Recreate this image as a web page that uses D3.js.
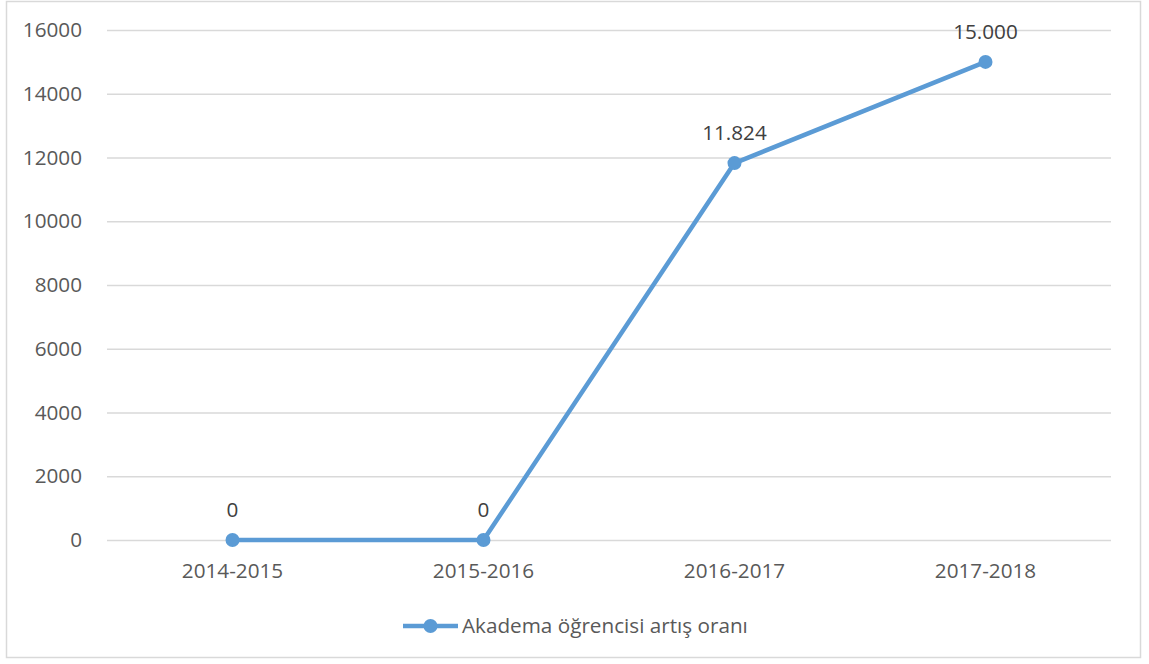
<!DOCTYPE html>
<html>
<head>
<meta charset="utf-8">
<script src="https://cdn.jsdelivr.net/npm/d3@7"></script>
<style>
  body { margin: 0; background: #fff; }
  text { font-family: "Open Sans", sans-serif; }
</style>
</head>
<body>
<div id="chart"></div>
<script>
// données
const years = ["2014-2015", "2015-2016", "2016-2017", "2017-2018"];
const values = [0, 0, 11824, 15000];
const valueLabels = ["0", "0", "11.824", "15.000"];
const yTicks = [0, 2000, 4000, 6000, 8000, 10000, 12000, 14000, 16000];
const seriesName = "Akadema öğrencisi artış oranı";

// constantes
const w = 1149;
const h = 664;
const padLeft = 107, padRight = 1111, padTop = 30, padBottom = 540;
const blue = "#5B9BD5";
const grey = "#595959";
const fontSize = "20.7px";

const svg = d3.select("#chart")
    .append("svg")
    .attr("width", w)
    .attr("height", h);

// cadre
svg.append("rect")
    .attr("x", 6.5)
    .attr("y", 1.5)
    .attr("width", 1134)
    .attr("height", 656)
    .attr("fill", "#fff")
    .attr("stroke", "#D9D9D9")
    .attr("stroke-width", 1.5);

// échelles
let xScale = d3.scaleBand()
    .domain(years)
    .range([padLeft, padRight]);

let yScale = d3.scaleLinear()
    .domain([0, 16000])
    .range([padBottom, padTop]);

let cx = d => xScale(d) + xScale.bandwidth() / 2;

// grille + axe y
let axeY = d3.axisLeft(yScale)
    .tickValues(yTicks)
    .tickSize(-(padRight - padLeft))
    .tickPadding(25)
    .tickFormat(d3.format("d"));

svg.append("g")
    .attr("transform", "translate(" + padLeft + ",0)")
    .call(axeY)
    .call(g => g.select(".domain").remove())
    .call(g => g.selectAll(".tick line").attr("stroke", "#D9D9D9").attr("stroke-width", 1.3))
    .call(g => g.selectAll(".tick text")
        .attr("fill", grey)
        .attr("font-size", fontSize));

// axe x
let axeX = d3.axisBottom(xScale)
    .tickSize(0)
    .tickPadding(23);

svg.append("g")
    .attr("transform", "translate(0," + padBottom + ")")
    .call(axeX)
    .call(g => g.select(".domain").remove())
    .call(g => g.selectAll(".tick text")
        .attr("fill", grey)
        .attr("font-size", fontSize));

// ligne
let line = d3.line()
    .x((d, i) => cx(years[i]))
    .y(d => yScale(d));

svg.append("path")
    .datum(values)
    .attr("d", line)
    .attr("fill", "none")
    .attr("stroke", blue)
    .attr("stroke-width", 4.5)
    .attr("stroke-linejoin", "round");

svg.selectAll("circle.pt")
    .data(values)
    .enter()
    .append("circle")
    .attr("class", "pt")
    .attr("cx", (d, i) => cx(years[i]))
    .attr("cy", d => yScale(d))
    .attr("r", 7)
    .attr("fill", blue);

// étiquettes
svg.selectAll("text.lbl")
    .data(values)
    .enter()
    .append("text")
    .attr("class", "lbl")
    .attr("x", (d, i) => cx(years[i]))
    .attr("y", d => yScale(d) - 23)
    .attr("text-anchor", "middle")
    .attr("fill", "#404040")
    .attr("font-size", fontSize)
    .text((d, i) => valueLabels[i]);

// légende
let legend = svg.append("g").attr("transform", "translate(403,626)");
legend.append("line")
    .attr("x1", 0).attr("x2", 55)
    .attr("y1", 0).attr("y2", 0)
    .attr("stroke", blue)
    .attr("stroke-width", 4.5);
legend.append("circle")
    .attr("cx", 27.5).attr("cy", 0)
    .attr("r", 7)
    .attr("fill", blue);
legend.append("text")
    .attr("x", 59)
    .attr("y", 0)
    .attr("dy", "0.35em")
    .attr("fill", grey)
    .attr("font-size", fontSize)
    .text(seriesName);
</script>
</body>
</html>
